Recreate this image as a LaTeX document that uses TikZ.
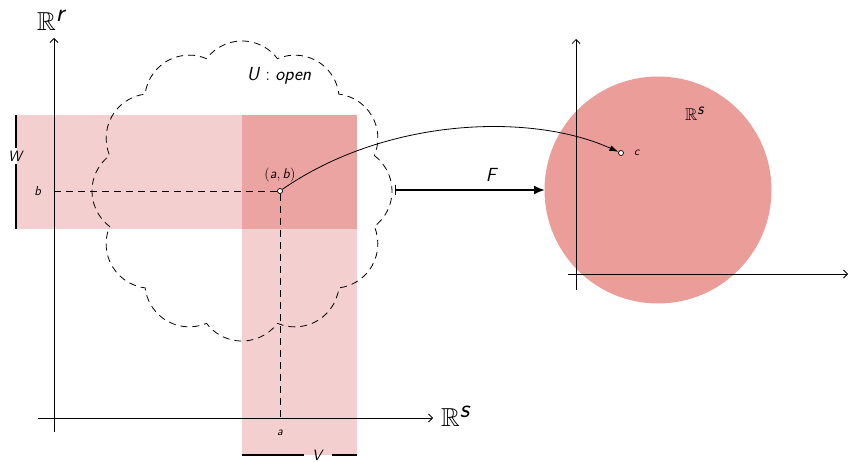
\documentclass[tikz,border=0pt]{standalone}
\usepackage{amssymb}
\usetikzlibrary{arrows.meta,calc}
\definecolor{lightpink}{HTML}{F3CFCF}
\definecolor{darkpink}{HTML}{EBA4A1}
\definecolor{circpink}{HTML}{EA9D99}
\newcommand{\si}[1]{\textsf{\textit{#1}}}
\begin{document}
\begin{tikzpicture}[x=1pt,y=-1pt,
  axis/.style={line width=0.8pt,-{Straight Barb[length=4pt,width=8pt]}},
  dsh/.style={line width=0.8pt,dash pattern=on 7pt off 5pt},
  pt/.style={circle,draw,fill=white,inner sep=0pt,minimum size=5pt,line width=0.7pt},
  bar/.style={line width=2.6pt},
  lbl/.style={inner sep=1pt}]
\useasboundingbox (0,0) rectangle (848,462);
% bands
\fill[lightpink] (17,115) rectangle (357,229);
\fill[lightpink] (242,115) rectangle (357,455);
\fill[darkpink] (242,115) rectangle (357,229);
% circle
\fill[circpink] (658,190) circle (113.5);
% left axes
\coordinate (yb) at (54,432); \coordinate (yt) at (54,38);
\coordinate (xl) at (38,418); \coordinate (xr) at (433,418);
\draw[axis] (yb) -- (yt);
\draw[axis] (xl) -- (xr);
\node[lbl] (Rr) at (52,20) {\fontsize{26}{28}\selectfont$\mathbb{R}^{\si{r}}$};
\node[lbl] (Rs1) at (456,416) {\fontsize{26}{28}\selectfont$\mathbb{R}^{\si{s}}$};
% right axes
\coordinate (ryb) at (576,290); \coordinate (ryt) at (576,39);
\coordinate (rxl) at (568,274); \coordinate (rxr) at (848,274);
\draw[axis] (ryb) -- (ryt);
\draw[axis] (rxl) -- (rxr);
\node[lbl] (Rs2) at (695,114) {\fontsize{17}{19}\selectfont$\mathbb{R}^{\si{s}}$};
% cloud (12 puffs)
\coordinate (UC) at (242,191);
\draw[dsh] ($(UC)+(-15:137)$)
  \foreach \i in {0,...,11} { arc[start angle={\i*30-53}, end angle={\i*30+53}, radius=44.4] } -- cycle;
\node[lbl] (Ul) at (279,76) {\fontsize{19}{21}\selectfont\si{U}\;:\;\si{open}};
% point (a,b)
\node[pt] (ab) at (280,191) {};
\node[lbl] (abl) at (280,175) {\fontsize{14}{16}\selectfont(\si{a},\,\si{b})};
\node[lbl] (bl) at (38,191) {\fontsize{13}{15}\selectfont\si{b}};
\node[lbl] (al) at (280,433) {\fontsize{12}{14}\selectfont\si{a}};
\coordinate (bx) at (54,191);
\coordinate (ax) at (280,418);
\draw[dsh] (bx) -- (ab.west);
\draw[dsh] (ab.south) -- (ax);
% W and V bars
\node[lbl,inner ysep=3pt] (Wl) at (16,156) {\fontsize{15}{17}\selectfont\si{W}};
\coordinate (w1) at (16,115); \coordinate (w2) at (16,229);
\draw[bar] (w1) -- (Wl.north);
\draw[bar] (Wl.south) -- (w2);
\node[lbl,inner xsep=8pt] (Vl) at (318,455) {\fontsize{15}{17}\selectfont\si{V}};
\coordinate (v1) at (242,455); \coordinate (v2) at (357,455);
\draw[bar] (v1) -- (Vl.west);
\draw[bar] (Vl.east) -- (v2);
% point c
\node[pt] (c) at (621,153) {};
\node[lbl] (cl) at (637,153) {\fontsize{12}{14}\selectfont\si{c}};
% curved map arrow
\draw[line width=0.8pt,-{Latex[length=9pt,width=6pt]}] (ab) .. controls (385,118) and (530,112) .. (c);
% F arrow
\coordinate (f1) at (395,190); \coordinate (f2) at (545,190);
\draw[line width=2pt,{Bar[width=10pt,line width=0.8pt]}-{Latex[length=11pt,width=9pt]}] (f1) -- (f2);
\node[lbl] (Fl) at (492,175) {\fontsize{19}{21}\selectfont\si{F}};
\end{tikzpicture}
\end{document}
